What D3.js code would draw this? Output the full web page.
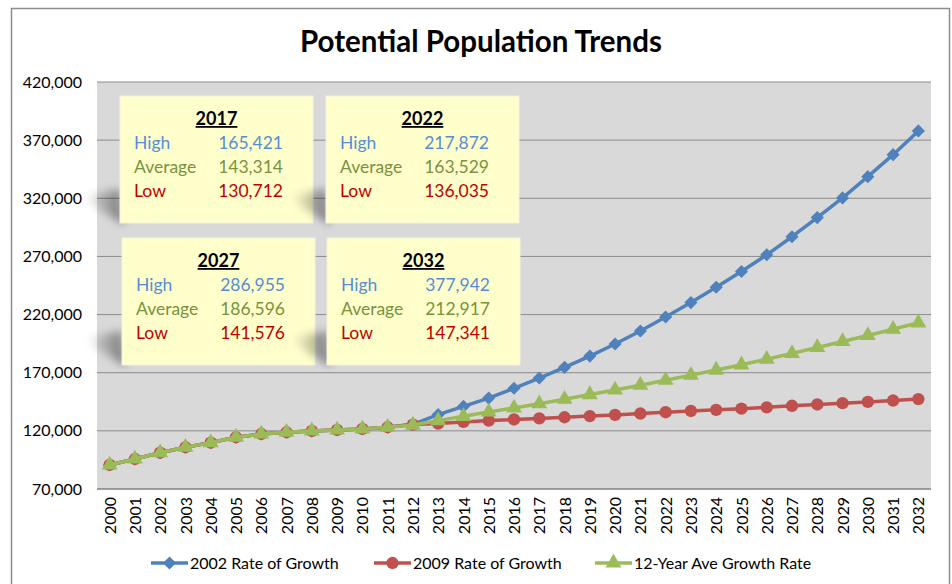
<!DOCTYPE html>
<html>
<head>
<meta charset="utf-8">
<script src="https://cdn.jsdelivr.net/npm/d3@7"></script>
<style>
  body { margin: 0; background: #fff; }
  svg { font-family: Lato, "Open Sans", sans-serif; }
</style>
</head>
<body>
<svg id="chart" width="952" height="584"></svg>
<script>
// Years on the category axis
const years = d3.range(2000, 2033).map(String);

// Series values
const growth2002 = [90700, 95800, 101200, 105900, 109900, 114500, 117300, 118800, 119900, 120800, 121700, 123100, 125600,
  134000, 141000, 148200, 156600, 165421, 174600, 184300, 194700, 205900, 217872, 230300, 243500, 257000, 271400, 286955,
  303400, 320300, 338600, 357500, 377942];
const growth2009 = [90700, 95800, 101200, 105900, 109900, 114500, 117300, 118800, 119900, 120800, 121700, 123100, 125400,
  126300, 127700, 128900, 129800, 130712, 131700, 132700, 133700, 134900, 136035, 137100, 138100, 139100, 140200, 141576,
  142700, 143800, 144900, 146100, 147341];
const growthAvg = [90700, 95800, 101200, 105900, 109900, 114500, 117300, 118800, 119900, 120800, 121700, 123100, 125000,
  128800, 132500, 136200, 139700, 143314, 147200, 151200, 155200, 159300, 163529, 167900, 172300, 176800, 181600, 186596,
  191700, 196900, 202000, 207400, 212917];

const seriesNames = ['2002 Rate of Growth', '2009 Rate of Growth', '12-Year Ave Growth Rate'];
const seriesColors = ['#4F81BD', '#C0504D', '#9BBB59'];
const seriesMarkers = ['diamond', 'circle', 'triangle'];

const yTicks = [70000, 120000, 170000, 220000, 270000, 320000, 370000, 420000];

// Summary boxes
const boxYears = ['2017', '2022', '2027', '2032'];
const boxLabels = ['High', 'Average', 'Low'];
const boxValues = [
  ['165,421', '143,314', '130,712'],
  ['217,872', '163,529', '136,035'],
  ['286,955', '186,596', '141,576'],
  ['377,942', '212,917', '147,341']
];
const boxTextColors = ['#558ED5', '#77933C', '#C00000'];

const svg = d3.select('#chart');
const margin = { top: 82, right: 21, bottom: 95, left: 97 };
const width = 952, height = 584;

const x = d3.scalePoint()
  .domain(years)
  .range([margin.left, width - margin.right])
  .padding(0.5);

const y = d3.scaleLinear()
  .domain([70000, 420000])
  .range([height - margin.bottom, margin.top]);

// Outer chart border
svg.append('rect')
  .attr('x', 11.5).attr('y', 8.5)
  .attr('width', 938).attr('height', 600)
  .attr('fill', '#fff')
  .attr('stroke', '#8c8c8c')
  .attr('stroke-width', 1.5);

// Title
svg.append('text')
  .attr('x', 481).attr('y', 52)
  .attr('text-anchor', 'middle')
  .style('font-size', '29.5px')
  .style('font-weight', 'bold')
  .text('Potential Population Trends');

// Plot background
svg.append('rect')
  .attr('x', margin.left).attr('y', margin.top)
  .attr('width', width - margin.left - margin.right)
  .attr('height', height - margin.top - margin.bottom)
  .attr('fill', '#D9D9D9');

// Gridlines
svg.append('g')
  .selectAll('line')
  .data(yTicks)
  .enter().append('line')
    .attr('x1', margin.left).attr('x2', width - margin.right)
    .attr('y1', d => y(d)).attr('y2', d => y(d))
    .attr('stroke', d => d === 70000 ? '#7f7f7f' : '#8c8c8c')
    .attr('stroke-width', d => d === 70000 ? 1.5 : 1);

// Y axis labels
const yAxis = svg.append('g')
  .attr('transform', `translate(${margin.left},0)`)
  .call(d3.axisLeft(y).tickValues(yTicks).tickFormat(d3.format(',')).tickSize(0).tickPadding(15));
yAxis.select('.domain').remove();
yAxis.selectAll('text').style('font-size', '16px').style('font-family', 'Lato, sans-serif').attr('fill', '#000');

// X axis labels
const xAxis = svg.append('g')
  .attr('transform', `translate(0,${height - margin.bottom})`)
  .call(d3.axisBottom(x).tickSize(0).tickPadding(0));
xAxis.select('.domain').remove();
xAxis.selectAll('text')
  .style('font-size', '16px')
  .style('font-family', 'Lato, sans-serif')
  .attr('fill', '#000')
  .attr('text-anchor', 'end')
  .attr('transform', 'rotate(-90)')
  .attr('x', -8)
  .attr('y', 0)
  .attr('dy', '0.35em');

// Shadow filter and gradient for the boxes
const defs = svg.append('defs');
defs.append('filter').attr('id', 'blur')
  .attr('x', '-50%').attr('y', '-50%').attr('width', '200%').attr('height', '200%')
  .append('feGaussianBlur').attr('stdDeviation', 4);
const grad = defs.append('linearGradient').attr('id', 'shade')
  .attr('x1', 0).attr('x2', 1).attr('y1', 0).attr('y2', 0);
grad.append('stop').attr('offset', 0).attr('stop-color', '#000').attr('stop-opacity', 0);
grad.append('stop').attr('offset', 1).attr('stop-color', '#000').attr('stop-opacity', 0.45);

// Box positions: two columns, two rows
const boxW = 193, boxH = 127;
const boxPos = [[120, 96], [326, 96], [122, 238], [327, 238]];

const boxes = svg.append('g')
  .selectAll('g')
  .data(boxYears)
  .enter().append('g')
    .attr('transform', (d, i) => `translate(${boxPos[i][0]},${boxPos[i][1]})`);

// curl-like shadow at the lower-left corner
boxes.append('path')
  .attr('d', `M-34,${boxH - 28} L0,${boxH - 34} L4,${boxH + 2} L-34,${boxH - 22} Z`)
  .attr('fill', 'url(#shade)')
  .attr('filter', 'url(#blur)');

boxes.append('rect')
  .attr('width', boxW).attr('height', boxH)
  .attr('fill', '#FFFFCC')
  .attr('stroke', '#f2f2e0')
  .attr('stroke-width', 1);

boxes.append('text')
  .attr('x', boxW / 2).attr('y', 29)
  .attr('text-anchor', 'middle')
  .style('font-size', '18px')
  .style('font-weight', 'bold')
  .style('text-decoration', 'underline')
  .text(d => d);

boxLabels.forEach((label, r) => {
  boxes.append('text')
    .attr('x', 14).attr('y', 53 + r * 24)
    .attr('fill', boxTextColors[r])
    .style('font-size', '17.5px')
    .text(label);
  boxes.append('text')
    .attr('x', 163).attr('y', 53 + r * 24)
    .attr('text-anchor', 'end')
    .attr('fill', boxTextColors[r])
    .style('font-size', '17.5px')
    .text((d, i) => boxValues[i][r]);
});

// Marker shapes
const markerPath = {
  diamond: d3.symbol().type(d3.symbolDiamond2).size(110),
  circle: d3.symbol().type(d3.symbolCircle).size(120),
  triangle: d3.symbol().type(d3.symbolTriangle).size(110)
};

const seriesData = [growth2002, growth2009, growthAvg];

const line = d3.line()
  .x((d, i) => x(years[i]))
  .y(d => y(d));

// Draw in the order the reference stacks them: blue, red, green on top
seriesData.forEach((values, s) => {
  const g = svg.append('g');
  g.append('path')
    .attr('d', line(values))
    .attr('fill', 'none')
    .attr('stroke', seriesColors[s])
    .attr('stroke-width', 3.5)
    .attr('stroke-linejoin', 'round');
  g.selectAll('path.mark')
    .data(values)
    .enter().append('path')
      .attr('class', 'mark')
      .attr('transform', (d, i) => `translate(${x(years[i])},${y(d)})`)
      .attr('d', markerPath[seriesMarkers[s]]())
      .attr('fill', seriesColors[s]);
});

// Legend
const legendX = [151, 374, 595];
const legend = svg.append('g')
  .selectAll('g')
  .data(seriesNames)
  .enter().append('g')
    .attr('transform', (d, i) => `translate(${legendX[i]},563)`);

legend.append('line')
  .attr('x1', 0).attr('x2', 37)
  .attr('stroke', (d, i) => seriesColors[i])
  .attr('stroke-width', 3.5);

legend.append('path')
  .attr('transform', 'translate(18.5,0)')
  .attr('d', (d, i) => markerPath[seriesMarkers[i]]())
  .attr('fill', (d, i) => seriesColors[i]);

legend.append('text')
  .attr('x', 39).attr('dy', '0.35em')
  .style('font-size', '16px')
  .text(d => d);
</script>
</body>
</html>
